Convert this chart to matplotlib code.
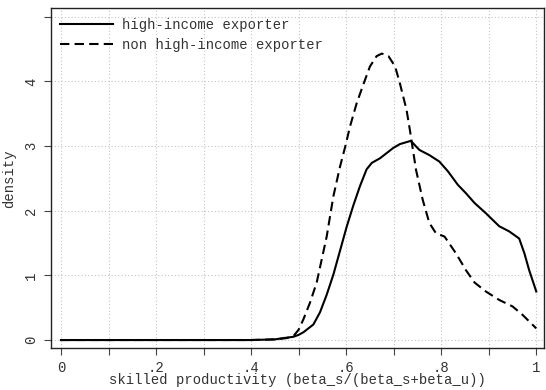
import numpy as np
import matplotlib.pyplot as plt

plt.rcParams['font.family'] = ['Liberation Mono', 'DejaVu Sans Mono']
plt.rcParams['font.size'] = 10

# kernel density estimates read along the x grid
x_high = [0.0, 0.40, 0.45, 0.468, 0.489, 0.50, 0.510, 0.531, 0.545, 0.559, 0.573,
          0.587, 0.601, 0.615, 0.629, 0.643, 0.654, 0.671, 0.685, 0.699, 0.713,
          0.736, 0.754, 0.775, 0.796, 0.814, 0.835, 0.852, 0.870, 0.894, 0.922,
          0.943, 0.964, 0.975, 0.985, 1.0]
y_high = [0.0, 0.0, 0.01, 0.03, 0.05, 0.08, 0.12, 0.24, 0.43, 0.70, 1.01,
          1.38, 1.75, 2.08, 2.38, 2.64, 2.74, 2.81, 2.89, 2.97, 3.03,
          3.08, 2.94, 2.86, 2.76, 2.61, 2.40, 2.27, 2.12, 1.96, 1.76,
          1.68, 1.57, 1.34, 1.08, 0.75]

x_non = [0.0, 0.40, 0.45, 0.475, 0.489, 0.50, 0.510, 0.524, 0.538, 0.559, 0.573, 0.587,
         0.598, 0.608, 0.622, 0.636, 0.650, 0.664, 0.675, 0.689, 0.703, 0.713,
         0.727, 0.734, 0.747, 0.761, 0.775, 0.789, 0.807, 0.831, 0.852, 0.870,
         0.894, 0.922, 0.950, 0.971, 1.0]
y_non = [0.0, 0.0, 0.01, 0.03, 0.06, 0.16, 0.32, 0.58, 0.89, 1.60, 2.22, 2.68,
         2.99, 3.30, 3.66, 3.95, 4.23, 4.39, 4.43, 4.39, 4.23, 3.97,
         3.56, 3.25, 2.63, 2.17, 1.81, 1.65, 1.60, 1.34, 1.08, 0.89,
         0.75, 0.62, 0.52, 0.39, 0.18]

xticks = np.round(np.arange(0, 1.01, 0.1), 1)
xlabels = ['0', '', '.2', '', '.4', '', '.6', '', '.8', '', '1']
yticks = [0, 1, 2, 3, 4, 5]
ylabels = ['0', '1', '2', '3', '4', '']

fig = plt.figure(figsize=(5.46, 3.9), dpi=100)
ax = fig.add_axes([0.0929, 0.1069, 0.9029, 0.8718])

ax.plot(x_high, y_high, color='black', lw=1.5, label='high-income exporter')
ax.plot(x_non, y_non, color='black', lw=1.5, ls=(0, (4.5, 2.5)),
        label='non high-income exporter')

ax.set_xlim(-0.0216, 1.0156)
ax.set_ylim(-0.128, 5.13)
ax.set_xticks(xticks)
ax.set_xticklabels(xlabels)
ax.set_yticks(yticks)
ax.set_yticklabels(ylabels, rotation=90, va='center')
ax.tick_params(direction='out', length=5, width=0.8, colors='#444444',
               labelcolor='#333333', pad=4)
ax.grid(True, color='#c4c4c4', ls=(0, (1, 2)), lw=0.8)
for s in ax.spines.values():
    s.set_color('#222222')
    s.set_linewidth(1.0)

ax.set_xlabel('skilled productivity (beta_s/(beta_s+beta_u))', color='#333333', labelpad=-1)
ax.set_ylabel('density', color='#333333', labelpad=6)

ax.legend(loc='upper left', bbox_to_anchor=(0.0, 1.0), frameon=False,
          handlelength=3.8, handletextpad=0.6, labelspacing=0.45,
          borderaxespad=0.3, labelcolor='#333333')

fig.savefig('out.png', dpi=100)
